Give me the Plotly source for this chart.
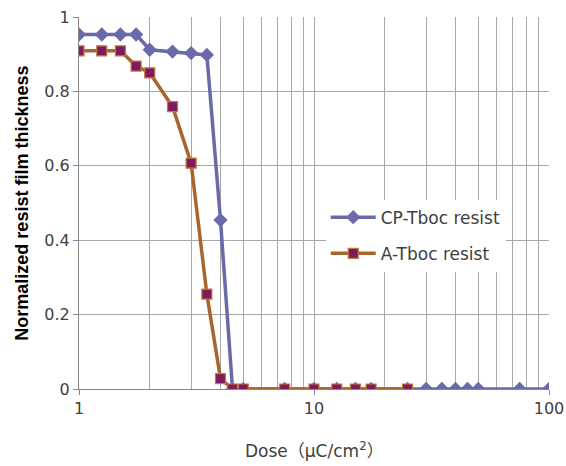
import plotly.graph_objects as go

dose_cp = [1, 1.25, 1.5, 1.75, 2, 2.5, 3, 3.5, 4, 4.5, 5, 7.5, 10, 12.5, 15, 17.5, 25,
           30, 35, 40, 45, 50, 75, 100]
thick_cp = [0.953, 0.953, 0.953, 0.953, 0.912, 0.907, 0.903, 0.898, 0.454, 0, 0, 0, 0, 0, 0, 0, 0,
            0, 0, 0, 0, 0, 0, 0]
dose_a = [1, 1.25, 1.5, 1.75, 2, 2.5, 3, 3.5, 4, 4.5, 5, 7.5, 10, 12.5, 15, 17.5, 25]
thick_a = [0.909, 0.909, 0.909, 0.868, 0.850, 0.759, 0.607, 0.255, 0.028, 0, 0, 0, 0, 0, 0, 0, 0]

y_ticks = [0, 0.2, 0.4, 0.6, 0.8, 1]
y_ticklabels = ["0", "0.2", "0.4", "0.6", "0.8", "1"]
x_ticks = [1, 10, 100]
x_ticklabels = ["1", "10", "100"]

FONT = "DejaVu Sans, Noto Sans CJK JP, sans-serif"
TITLE_FONT = "Liberation Sans, Arial, sans-serif"

fig = go.Figure()
fig.add_trace(go.Scatter(
    x=dose_cp, y=thick_cp, mode="lines+markers", name="CP-Tboc resist",
    legendgroup="cp",
    line=dict(color="#6A6AAA", width=3.5),
    marker=dict(symbol="diamond", size=11, color="#6A6AAA"),
))
fig.add_trace(go.Scatter(
    x=dose_a, y=thick_a, mode="lines+markers", name="A-Tboc resist",
    legendgroup="a",
    line=dict(color="#A8662E", width=3.5),
    marker=dict(symbol="square", size=10, color="#801A60",
                line=dict(color="#C07A3A", width=1.2)),
))

fig.update_layout(
    width=566, height=466,
    margin=dict(l=79, r=17, t=17, b=77, autoexpand=False),
    paper_bgcolor="white", plot_bgcolor="white",
    font=dict(family=FONT, size=16, color="#404040"),
    showlegend=True,
    legend=dict(x=0.525, y=0.509, xanchor="left", yanchor="top",
                bgcolor="white", font=dict(size=17, color="#404040"),
                itemwidth=45,
                tracegroupgap=11, traceorder="grouped"),
    xaxis=dict(
        type="log", range=[0, 2], automargin=False,
        tickvals=x_ticks, ticktext=x_ticklabels,
        showgrid=True, gridcolor="#A8A8A8", gridwidth=1, zeroline=False,
        showline=True, linecolor="#888888", linewidth=1,
        ticks="outside", ticklen=5, tickcolor="#888888",
        minor=dict(showgrid=True, gridcolor="#A8A8A8", gridwidth=1, dtick="D1"),
        tickfont=dict(size=16, color="#404040"),
    ),
    yaxis=dict(
        range=[0, 1], automargin=False,
        tickvals=y_ticks, ticktext=y_ticklabels,
        showgrid=True, gridcolor="#A8A8A8", gridwidth=1,
        zeroline=False,
        showline=True, linecolor="#888888", linewidth=1,
        ticks="outside", ticklen=5, tickcolor="#888888",
        tickfont=dict(size=16, color="#404040"),
    ),
    annotations=[
        dict(text="Dose（μC/cm<sup>2</sup>）", xref="paper", yref="paper",
             x=0.5, y=-0.13, xanchor="center", yanchor="top", showarrow=False,
             font=dict(size=17, color="#404040")),
        dict(text="<b>Normalized resist film thickness</b>", xref="paper", yref="paper",
             x=-0.122, y=0.5, xanchor="center", yanchor="middle", showarrow=False,
             textangle=-90, font=dict(size=18, family=TITLE_FONT, color="#000000")),
    ],
)

fig.write_html("out.html")
